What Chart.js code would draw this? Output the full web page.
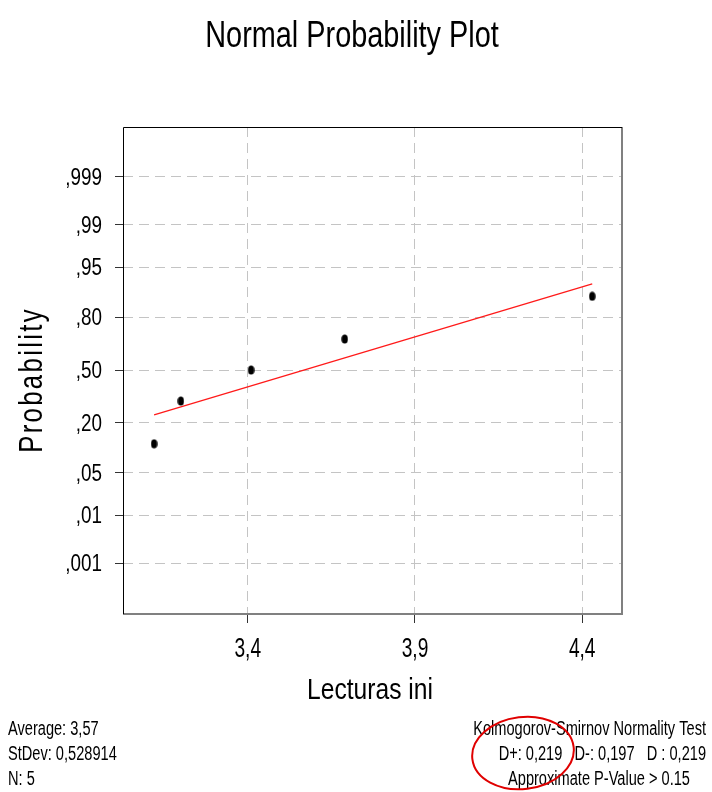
<!DOCTYPE html>
<html>
<head>
<meta charset="utf-8">
<title>Normal Probability Plot</title>
<script src="https://cdn.jsdelivr.net/npm/chart.js@4.4.1/dist/chart.umd.min.js"></script>
<style>
  body { margin: 0; background: #fff; }
  canvas { display: block; }
</style>
</head>
<body>
<canvas id="plot" width="712" height="792"></canvas>
<script>
// readings and their plotting positions (probability)
const lecturas = [3.12, 3.20, 3.41, 3.69, 4.43];
const probabilidades = [0.119, 0.310, 0.500, 0.690, 0.881];

// fitted normal line, from smallest to largest reading
const ajusteX = [3.12, 4.43];
const ajusteP = [0.236, 0.916];

const probTicks = [0.001, 0.01, 0.05, 0.20, 0.50, 0.80, 0.95, 0.99, 0.999];
const probLabels = [',001', ',01', ',05', ',20', ',50', ',80', ',95', ',99', ',999'];
const xTicks = [3.4, 3.9, 4.4];
const xLabels = ['3,4', '3,9', '4,4'];

const resumen = ['Average: 3,57', 'StDev: 0,528914', 'N: 5'];
const prueba = ['Kolmogorov-Smirnov Normality Test', 'D+: 0,219   D-: 0,197   D : 0,219', 'Approximate P-Value > 0.15'];

const FONT = '"Liberation Sans", Arial, sans-serif';

// inverse of the standard normal CDF (Acklam)
function probit(p) {
  const a = [-3.969683028665376e+01, 2.209460984245205e+02, -2.759285104469687e+02, 1.383577518672690e+02, -3.066479806614716e+01, 2.506628277459239e+00];
  const b = [-5.447609879822406e+01, 1.615858368580409e+02, -1.556989798598866e+02, 6.680131188771972e+01, -1.328068155288572e+01];
  const c = [-7.784894002430293e-03, -3.223964580411365e-01, -2.400758277161838e+00, -2.549732539343734e+00, 4.374664141464968e+00, 2.938163982698783e+00];
  const d = [7.784695709041462e-03, 3.224671290700398e-01, 2.445134137142996e+00, 3.754408661907416e+00];
  const lo = 0.02425, hi = 1 - lo;
  let q, r;
  if (p < lo) {
    q = Math.sqrt(-2 * Math.log(p));
    return (((((c[0]*q+c[1])*q+c[2])*q+c[3])*q+c[4])*q+c[5]) / ((((d[0]*q+d[1])*q+d[2])*q+d[3])*q+1);
  }
  if (p > hi) {
    q = Math.sqrt(-2 * Math.log(1 - p));
    return -(((((c[0]*q+c[1])*q+c[2])*q+c[3])*q+c[4])*q+c[5]) / ((((d[0]*q+d[1])*q+d[2])*q+d[3])*q+1);
  }
  q = p - 0.5;
  r = q * q;
  return (((((a[0]*r+a[1])*r+a[2])*r+a[3])*r+a[4])*r+a[5])*q / (((((b[0]*r+b[1])*r+b[2])*r+b[3])*r+b[4])*r+1);
}

// small upright oval used as the point marker
const dot = document.createElement('canvas');
dot.width = 7; dot.height = 10;
const dc = dot.getContext('2d');
dc.fillStyle = '#000';
dc.beginPath();
dc.ellipse(3.5, 5, 3.2, 4.6, 0, 0, Math.PI * 2);
dc.fill();

// condensed text: plain sans squeezed horizontally by sx
function drawText(ctx, text, x, y, size, align, sx, spacing) {
  ctx.save();
  ctx.font = size + 'px ' + FONT;
  ctx.letterSpacing = (spacing || 0) + 'px';
  ctx.textAlign = align;
  ctx.textBaseline = 'alphabetic';
  ctx.fillStyle = '#000';
  ctx.translate(x, y);
  ctx.scale(sx || 1, 1);
  ctx.fillText(text, 0, 0);
  ctx.restore();
}

const frame = {
  id: 'frame',
  afterDatasetsDraw(chart) {
    const { ctx, chartArea: a } = chart;
    ctx.save();
    ctx.lineWidth = 2;
    ctx.strokeStyle = '#808080';
    ctx.beginPath();
    ctx.moveTo(a.right, a.top);
    ctx.lineTo(a.right, a.bottom);
    ctx.lineTo(a.left, a.bottom);
    ctx.stroke();
    ctx.lineWidth = 1;
    ctx.strokeStyle = '#000';
    ctx.beginPath();
    ctx.moveTo(a.left + 0.5, a.bottom);
    ctx.lineTo(a.left + 0.5, a.top + 0.5);
    ctx.lineTo(a.right, a.top + 0.5);
    ctx.stroke();
    ctx.restore();
  }
};

const labels = {
  id: 'labels',
  afterDraw(chart) {
    const ctx = chart.ctx;
    const sx = chart.scales.x, sy = chart.scales.y;

    // tick labels, placed through the scales
    xTicks.forEach((v, i) => drawText(ctx, xLabels[i], sx.getPixelForValue(v), 657, 27, 'center', 0.71));
    probTicks.forEach((p, i) => drawText(ctx, probLabels[i], 102, sy.getPixelForValue(probit(p)) + 8, 23, 'right', 0.82));

    drawText(ctx, 'Normal Probability Plot', 352, 47, 37, 'center', 0.78);
    drawText(ctx, 'Lecturas ini', 370, 699, 30, 'center', 0.82);

    ctx.save();
    ctx.translate(42, 380);
    ctx.rotate(-Math.PI / 2);
    drawText(ctx, 'Probability', 0, 0, 34, 'center', 0.76, 3);
    ctx.restore();

    resumen.forEach((t, i) => drawText(ctx, t, 8, 735 + i * 25, 20, 'left', 0.73));
    drawText(ctx, prueba[0], 706, 735, 20, 'right', 0.73);
    drawText(ctx, prueba[1], 706, 760, 20, 'right', 0.73);
    drawText(ctx, prueba[2], 599, 785, 20, 'center', 0.73);

    // hand-drawn circle round the D+ statistic
    ctx.save();
    ctx.strokeStyle = '#e00000';
    ctx.lineWidth = 2;
    ctx.beginPath();
    ctx.ellipse(523, 753, 51, 36, -0.12, 0, Math.PI * 2);
    ctx.stroke();
    ctx.restore();
  }
};

const gridColor = '#c4c4c4';

new Chart(document.getElementById('plot'), {
  type: 'scatter',
  data: {
    datasets: [
      {
        data: lecturas.map((x, i) => ({ x, y: probit(probabilidades[i]) })),
        pointStyle: dot,
        pointRadius: 5
      },
      {
        type: 'line',
        data: ajusteX.map((x, i) => ({ x, y: probit(ajusteP[i]) })),
        borderColor: '#ff1a1a',
        borderWidth: 1.3,
        pointRadius: 0,
        fill: false
      }
    ]
  },
  plugins: [frame, labels],
  options: {
    responsive: false,
    animation: false,
    layout: { padding: { top: 127, right: 90, left: 0, bottom: 0 } },
    plugins: { legend: { display: false }, tooltip: { enabled: false } },
    scales: {
      x: {
        type: 'linear',
        min: 3.027,
        max: 4.519,
        afterBuildTicks: scale => { scale.ticks = xTicks.map(v => ({ value: v })); },
        afterFit: scale => { scale.height = 178; },
        ticks: { display: false },
        grid: {
          color: gridColor,
          borderDash: [10, 6],
          tickLength: 9,
          tickColor: '#333',
          tickBorderDash: []
        },
        border: { display: false, dash: [10, 6] }
      },
      y: {
        type: 'linear',
        min: -3.905,
        max: 3.89,
        afterBuildTicks: scale => { scale.ticks = probTicks.map(p => ({ value: probit(p) })); },
        afterFit: scale => { scale.width = 123; },
        ticks: { display: false },
        grid: {
          color: gridColor,
          borderDash: [10, 6],
          tickLength: 8,
          tickColor: '#333',
          tickBorderDash: []
        },
        border: { display: false, dash: [10, 6] }
      }
    }
  }
});
</script>
</body>
</html>
